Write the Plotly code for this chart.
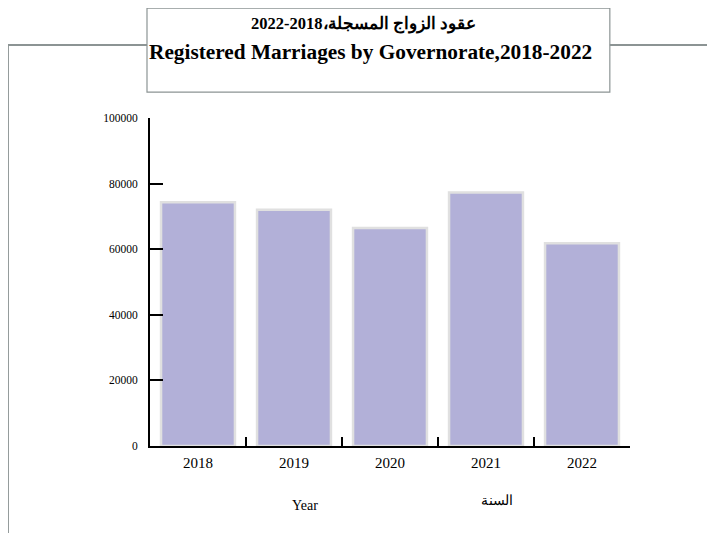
import plotly.graph_objects as go

years = ["2018", "2019", "2020", "2021", "2022"]
marriages = [74300, 72000, 66500, 77300, 61800]
y_ticks = [0, 20000, 40000, 60000, 80000, 100000]
y_tick_text = ["0", "20000", "40000", "60000", "80000", "100000"]

title_ar = "عقود الزواج المسجلة،2018-2022"
title_en = "Registered Marriages by Governorate,2018-2022"

serif = "Liberation Serif, Times New Roman, serif"

fig = go.Figure()

fig.add_trace(go.Bar(
    x=years,
    y=marriages,
    marker_color="#b2b0d8",
    marker_line_color="#e0e0e0",
    marker_line_width=2.5,
    showlegend=False,
))

# outer frame (grey), then white title box sitting on top of it
frame = dict(type="rect", xref="paper", yref="paper",
             x0=-0.296, x1=1.3, y0=-0.4, y1=1.2226,
             line=dict(color="#8c9494", width=2), fillcolor="rgba(0,0,0,0)", layer="below")
title_box = dict(type="rect", xref="paper", yref="paper",
                 x0=-0.00625, x1=0.958, y0=1.079, y1=1.335,
                 line=dict(color="#8c9494", width=1.2), fillcolor="white", layer="above")

fig.update_layout(
    width=715, height=533,
    margin=dict(l=142, r=93, t=110, b=95),
    plot_bgcolor="white",
    paper_bgcolor="white",
    font=dict(family=serif, color="black"),
    bargap=0.23,
    shapes=[frame, title_box],
    annotations=[
        dict(text="<b>" + title_ar + "</b>", xref="paper", yref="paper",
             x=0.445, y=1.322, xanchor="center", showarrow=False,
             font=dict(size=16.5, family=serif)),
        dict(text="<b>" + title_en + "</b>", xref="paper", yref="paper",
             x=0.459, y=1.2425, xanchor="center", showarrow=False,
             font=dict(size=21.3, family=serif)),
        dict(text="Year", xref="paper", yref="paper",
             x=0.323, y=-0.21, xanchor="center", showarrow=False,
             font=dict(size=14, family=serif)),
        dict(text="السنة", xref="paper", yref="paper",
             x=0.723, y=-0.195, xanchor="center", showarrow=False,
             font=dict(size=14, family=serif)),
    ],
)

fig.update_xaxes(
    type="category",
    showline=True, linecolor="black", linewidth=2,
    ticks="inside", tickson="boundaries", ticklen=9, tickwidth=2, tickcolor="black",
    showgrid=False,
    tickfont=dict(size=15),
    ticklabelstandoff=2,
)

fig.update_yaxes(
    range=[0, 100000],
    tickvals=y_ticks,
    ticktext=y_tick_text,
    showline=True, linecolor="black", linewidth=2,
    ticks="inside", ticklen=13, tickwidth=2, tickcolor="black",
    showgrid=False, zeroline=False,
    tickfont=dict(size=11.5),
    ticklabelstandoff=8,
)

fig.write_html("out.html")
